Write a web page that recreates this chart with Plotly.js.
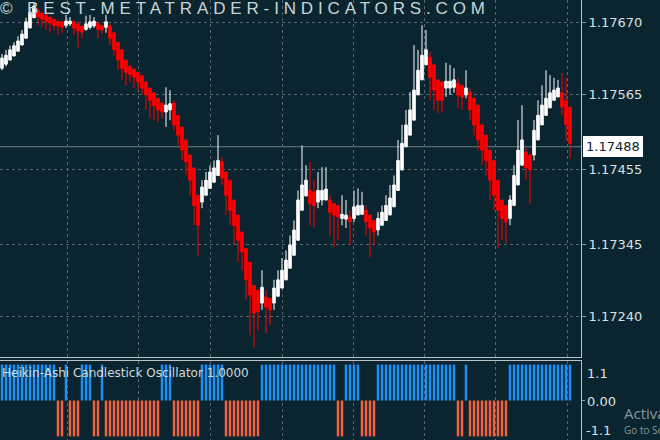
<!DOCTYPE html>
<html>
<head>
<meta charset="utf-8">
<script src="https://cdn.plot.ly/plotly-3.0.1.min.js"></script>
<style>
html,body{margin:0;padding:0;background:#0a252f;}
#chart{width:660px;height:440px;}
</style>
</head>
<body>
<div id="chart"></div>
<script>
// Heikin-Ashi candles
const haOpen = [
1.17603,1.17609,1.17615,1.17621,1.17628,1.17637,1.17647,1.17662,1.17677,1.17688,
1.17684,1.17681,1.17678,1.17675,1.17672,1.17671,1.17666,1.17668,1.17671,1.17668,
1.17665,1.17660,1.17663,1.17665,1.17669,1.17666,1.17663,1.17665,1.17655,1.17641,
1.17630,1.17615,1.17606,1.17602,1.17597,1.17592,1.17583,1.17574,1.17567,1.17559,
1.17552,1.17539,1.17542,1.17552,1.17534,1.17517,1.17498,1.17476,1.17457,1.17417,
1.17407,1.17417,1.17427,1.17436,1.17446,1.17466,1.17451,1.17439,1.17410,1.17388,
1.17363,1.17339,1.17319,1.17285,1.17278,1.17259,1.17268,1.17266,1.17259,1.17269,
1.17281,1.17293,1.17310,1.17329,1.17351,1.17395,1.17416,1.17424,1.17422,1.17407,
1.17410,1.17410,1.17410,1.17405,1.17402,1.17383,1.17382,1.17385,1.17383,1.17388,
1.17389,1.17395,1.17388,1.17380,1.17366,1.17373,1.17380,1.17388,1.17400,1.17424,
1.17454,1.17488,1.17505,1.17527,1.17564,1.17586,1.17608,1.17619,1.17608,1.17586,
1.17583,1.17574,1.17574,1.17575,1.17581,1.17578,1.17564,1.17568,1.17559,1.17549,
1.17520,1.17505,1.17483,1.17468,1.17439,1.17410,1.17402,1.17383,1.17402,1.17432,
1.17461,1.17480,1.17476,1.17476,1.17498,1.17520,1.17534,1.17545,1.17556,1.17561,
1.17567,1.17556,1.17546
];
const haHigh = [
1.17624,1.17630,1.17636,1.17641,1.17650,1.17659,1.17677,1.17691,1.17699,1.17691,
1.17684,1.17681,1.17678,1.17675,1.17672,1.17671,1.17681,1.17678,1.17674,1.17671,
1.17665,1.17680,1.17681,1.17678,1.17672,1.17666,1.17681,1.17668,1.17655,1.17641,
1.17630,1.17615,1.17606,1.17602,1.17597,1.17592,1.17583,1.17574,1.17567,1.17559,
1.17552,1.17575,1.17571,1.17556,1.17534,1.17517,1.17498,1.17476,1.17457,1.17417,
1.17439,1.17451,1.17461,1.17468,1.17505,1.17473,1.17451,1.17439,1.17410,1.17388,
1.17363,1.17339,1.17319,1.17285,1.17278,1.17307,1.17278,1.17266,1.17293,1.17307,
1.17325,1.17336,1.17358,1.17380,1.17424,1.17490,1.17461,1.17466,1.17439,1.17451,
1.17458,1.17458,1.17417,1.17405,1.17402,1.17417,1.17410,1.17395,1.17424,1.17427,
1.17422,1.17402,1.17388,1.17380,1.17392,1.17402,1.17417,1.17432,1.17446,1.17498,
1.17520,1.17542,1.17568,1.17637,1.17630,1.17666,1.17659,1.17627,1.17608,1.17586,
1.17583,1.17611,1.17608,1.17603,1.17589,1.17578,1.17600,1.17574,1.17559,1.17549,
1.17520,1.17505,1.17483,1.17468,1.17439,1.17410,1.17402,1.17417,1.17461,1.17527,
1.17549,1.17486,1.17476,1.17527,1.17556,1.17578,1.17600,1.17593,1.17589,1.17586,
1.17596,1.17589,1.17546
];
const haLow = [
1.17600,1.17606,1.17615,1.17621,1.17628,1.17637,1.17647,1.17662,1.17677,1.17666,
1.17663,1.17659,1.17655,1.17659,1.17652,1.17655,1.17662,1.17665,1.17652,1.17633,
1.17647,1.17658,1.17660,1.17662,1.17647,1.17653,1.17655,1.17637,1.17622,1.17600,
1.17586,1.17578,1.17583,1.17574,1.17571,1.17564,1.17542,1.17530,1.17527,1.17524,
1.17530,1.17517,1.17527,1.17512,1.17490,1.17468,1.17446,1.17417,1.17373,1.17329,
1.17398,1.17417,1.17427,1.17436,1.17446,1.17432,1.17388,1.17373,1.17344,1.17319,
1.17307,1.17263,1.17212,1.17194,1.17219,1.17249,1.17215,1.17227,1.17249,1.17269,
1.17281,1.17293,1.17310,1.17329,1.17351,1.17395,1.17416,1.17373,1.17370,1.17398,
1.17402,1.17410,1.17358,1.17341,1.17351,1.17373,1.17369,1.17344,1.17378,1.17388,
1.17389,1.17358,1.17326,1.17344,1.17358,1.17373,1.17380,1.17388,1.17400,1.17424,
1.17454,1.17488,1.17505,1.17527,1.17564,1.17586,1.17608,1.17556,1.17542,1.17537,
1.17539,1.17561,1.17564,1.17567,1.17545,1.17542,1.17559,1.17527,1.17505,1.17483,
1.17461,1.17446,1.17410,1.17395,1.17339,1.17351,1.17347,1.17373,1.17402,1.17432,
1.17461,1.17439,1.17405,1.17468,1.17498,1.17520,1.17534,1.17545,1.17556,1.17561,
1.17534,1.17498,1.17471
];
const haClose = [
1.17618,1.17622,1.17630,1.17636,1.17643,1.17653,1.17671,1.17685,1.17694,1.17678,
1.17675,1.17672,1.17669,1.17666,1.17665,1.17663,1.17672,1.17672,1.17662,1.17658,
1.17656,1.17668,1.17671,1.17672,1.17660,1.17659,1.17671,1.17647,1.17630,1.17615,
1.17603,1.17597,1.17594,1.17590,1.17583,1.17574,1.17564,1.17556,1.17548,1.17542,
1.17539,1.17549,1.17551,1.17520,1.17505,1.17483,1.17466,1.17439,1.17402,1.17373,
1.17429,1.17439,1.17451,1.17457,1.17468,1.17442,1.17417,1.17395,1.17373,1.17351,
1.17334,1.17293,1.17271,1.17244,1.17246,1.17282,1.17253,1.17249,1.17281,1.17293,
1.17307,1.17322,1.17344,1.17366,1.17410,1.17432,1.17439,1.17405,1.17402,1.17424,
1.17424,1.17426,1.17392,1.17388,1.17385,1.17389,1.17388,1.17378,1.17400,1.17402,
1.17402,1.17378,1.17369,1.17363,1.17383,1.17392,1.17402,1.17413,1.17432,1.17468,
1.17493,1.17520,1.17542,1.17571,1.17600,1.17622,1.17630,1.17590,1.17571,1.17556,
1.17556,1.17584,1.17584,1.17586,1.17564,1.17561,1.17574,1.17542,1.17520,1.17498,
1.17483,1.17468,1.17439,1.17417,1.17395,1.17383,1.17378,1.17410,1.17446,1.17483,
1.17498,1.17457,1.17454,1.17512,1.17534,1.17549,1.17559,1.17567,1.17571,1.17574,
1.17546,1.17520,1.17493
];
// Oscillator histogram (+1 bullish / -1 bearish)
const oscValues = [
1,1,1,1,1,1,1,1,1,1,1,1,1,1,
-1,-1,
1,
-1,-1,-1,
1,1,1,
-1,-1,
1,
-1,-1,-1,-1,-1,-1,-1,-1,-1,-1,-1,-1,-1,-1,
1,1,1,
-1,-1,-1,-1,-1,-1,-1,
1,1,1,1,1,1,
-1,-1,-1,-1,-1,-1,-1,-1,-1,
1,1,1,1,1,1,1,1,1,1,1,1,1,1,1,1,1,1,1,
-1,-1,
1,1,1,1,
-1,-1,-1,-1,
1,1,1,1,1,1,1,1,1,1,1,1,1,1,1,1,1,1,1,1,
-1,-1,
1,
-1,-1,-1,-1,-1,-1,-1,-1,-1,-1,
1,1,1,1,1,1,1,1,1,1,1,1,1,1,1,1
];
const priceTicks = [1.17670, 1.17565, 1.17455, 1.17345, 1.17240];
const currentPrice = 1.17488;
const oscTicks = ['1.1', '0.00', '-1.1'];
const oscTickVals = [1.1, 0, -1.1];
const indicatorName = 'Heikin-Ashi Candlestick Oscillator 1.0000';
const watermark = '\u00A9 BEST-METATRADER-INDICATORS.COM';

const barIndex = haOpen.map((_, i) => i);
const BG = '#0a252f';
const GRID = '#56666c';
const AXIS = '#b9c2c4';
const TXT = '#d9e0e0';
const vGrid = [16.25, 34, 52, 70, 87.75, 105.5, 123.25, 141.25];

const candles = {
  type: 'candlestick', x: barIndex, open: haOpen, high: haHigh, low: haLow, close: haClose,
  xaxis: 'x', yaxis: 'y', hoverinfo: 'skip', whiskerwidth: 0,
  increasing: {line: {color: '#ffffff', width: 1}, fillcolor: '#ffffff'},
  decreasing: {line: {color: '#ff0000', width: 1}, fillcolor: '#ff0000'}
};
const osc = {
  type: 'bar', x: barIndex, y: oscValues, xaxis: 'x2', yaxis: 'y2', width: 0.62,
  marker: {color: oscValues.map(v => v > 0 ? '#1e8ff5' : '#f4603f'), line: {width: 0}},
  hoverinfo: 'skip'
};

const xr = [-0.5, 144.75];
const yMainBottom = (440 - 357) / 440;
const yOscTop = (440 - 361) / 440;
const font = 'DejaVu Sans, sans-serif';
const gridDash = '3px,3px';

const layout = {
  width: 660, height: 440,
  margin: {l: 0, r: 79, t: 0, b: 0, pad: 0},
  paper_bgcolor: BG, plot_bgcolor: BG,
  showlegend: false, hovermode: false, dragmode: false,
  boxgap: 0.08,
  xaxis: {domain: [0, 1], range: xr, anchor: 'y', tickmode: 'array', tickvals: vGrid,
    showticklabels: false, ticks: '', showgrid: true, gridcolor: GRID, griddash: gridDash, gridwidth: 1,
    zeroline: false, showline: true, linecolor: AXIS, linewidth: 1, rangeslider: {visible: false}, fixedrange: true},
  yaxis: {domain: [yMainBottom, 1], range: [1.17180, 1.17703], side: 'right', anchor: 'x',
    tickmode: 'array', tickvals: priceTicks, ticktext: priceTicks.map(v => v.toFixed(5)),
    tickfont: {family: font, size: 13, color: TXT}, ticks: 'outside', ticklen: 4, tickcolor: '#8d999c',
    showgrid: true, gridcolor: GRID, griddash: gridDash, gridwidth: 1, zeroline: false,
    showline: true, linecolor: AXIS, linewidth: 1, fixedrange: true},
  xaxis2: {domain: [0, 1], range: xr, anchor: 'y2', side: 'top', tickmode: 'array', tickvals: vGrid,
    showticklabels: false, ticks: '', showgrid: true, gridcolor: GRID, griddash: gridDash, gridwidth: 1,
    zeroline: false, showline: true, linecolor: AXIS, linewidth: 1, fixedrange: true},
  yaxis2: {domain: [0, yOscTop], range: [-1.1, 1.1], side: 'right', anchor: 'x2',
    tickmode: 'array', tickvals: [0], ticks: 'outside', ticklen: 3, tickcolor: '#8d999c',
    showticklabels: false, showgrid: false, zeroline: false,
    showline: true, linecolor: AXIS, linewidth: 1, fixedrange: true},
  shapes: [
    {type: 'line', xref: 'paper', yref: 'y', x0: 0, x1: 1, y0: currentPrice, y1: currentPrice,
     line: {color: '#737b7d', width: 1}, layer: 'below'}
  ],
  annotations: [
    {text: watermark, xref: 'paper', yref: 'paper', x: 0, y: 1, xanchor: 'left', yanchor: 'top',
     yshift: 3, showarrow: false, font: {family: 'Liberation Sans, sans-serif', size: 17, color: '#c9d3d7'}},
    {text: currentPrice.toFixed(5), xref: 'paper', yref: 'y', x: 1, y: currentPrice, xanchor: 'left', yanchor: 'middle',
     xshift: 2, showarrow: false, bgcolor: '#ffffff', borderpad: 2, bordercolor: '#ffffff', borderwidth: 1,
     font: {family: font, size: 13, color: '#0a252f'}},
    {text: indicatorName, xref: 'paper', yref: 'paper', x: 0, y: (440 - 373) / 440, xanchor: 'left', yanchor: 'middle',
     showarrow: false, font: {family: font, size: 12, color: '#d3dadb'}},
    {text: oscTicks[0], xref: 'paper', yref: 'y2', x: 1, y: oscTickVals[0], xanchor: 'left', yanchor: 'top',
     xshift: 4, yshift: -3, showarrow: false, font: {family: font, size: 13, color: TXT}},
    {text: oscTicks[1], xref: 'paper', yref: 'y2', x: 1, y: oscTickVals[1], xanchor: 'left', yanchor: 'middle',
     xshift: 4, yshift: -1, showarrow: false, font: {family: font, size: 13, color: TXT}},
    {text: oscTicks[2], xref: 'paper', yref: 'y2', x: 1, y: oscTickVals[2], xanchor: 'left', yanchor: 'bottom',
     xshift: 3, showarrow: false, font: {family: font, size: 13, color: TXT}},
    {text: 'Activate Windows', xref: 'paper', yref: 'paper', x: 622 / 581, y: (440 - 413) / 440, xanchor: 'left', yanchor: 'middle',
     showarrow: false, font: {family: 'Open Sans, sans-serif', size: 15, color: '#8a9599'}},
    {text: 'Go to Settings to activate Windows.', xref: 'paper', yref: 'paper', x: 622 / 581, y: (440 - 430) / 440, xanchor: 'left', yanchor: 'middle',
     showarrow: false, font: {family: 'Open Sans, sans-serif', size: 10, color: '#8a9599'}}
  ]
};

Plotly.newPlot('chart', [candles, osc], layout, {displayModeBar: false, staticPlot: true}).then(() => {
  const host = document.getElementById('chart').getBoundingClientRect();
  document.querySelectorAll('.annotation-text').forEach(t => {
    if (t.textContent.indexOf('BEST') < 0) return;
    const w0 = t.getComputedTextLength();
    const n = t.textContent.length;
    const ls = (485 - w0) / (n - 1);
    t.setAttribute('letter-spacing', ls.toFixed(2));
    const r = t.getBoundingClientRect();
    const dx = host.left - r.left;
    const prev = t.getAttribute('transform') || '';
    t.setAttribute('transform', 'translate(' + dx.toFixed(1) + ',0) ' + prev);
  });
});
</script>
</body>
</html>
